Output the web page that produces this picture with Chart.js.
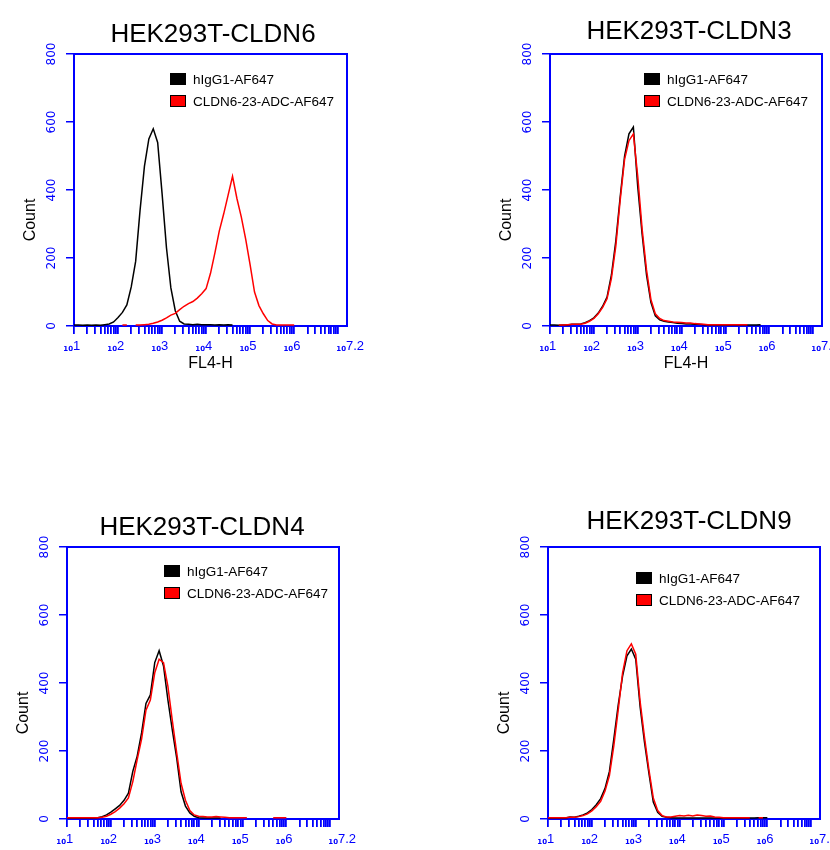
<!DOCTYPE html>
<html lang="en">
<head>
    <meta charset="UTF-8">
    <title>HEK293T CLDN binding - FL4-H histograms</title>
    <script src="https://cdn.jsdelivr.net/npm/chart.js"></script>
    <style>
        body {
            margin: 0;
            width: 830px;
            height: 850px;
            background: #ffffff;
            position: relative;
            overflow: hidden;
        }
        canvas {
            position: absolute;
        }
    </style>
</head>
<body>
    <canvas id="p1" width="400" height="380" style="left:0px;top:0px"></canvas>
    <canvas id="p2" width="430" height="380" style="left:400px;top:0px"></canvas>
    <canvas id="p3" width="400" height="420" style="left:0px;top:430px"></canvas>
    <canvas id="p4" width="430" height="420" style="left:400px;top:430px"></canvas>
    <script>
        // FL4-H bins (log10 of intensity)
        const channels = [1.0, 1.1, 1.2, 1.3, 1.4, 1.5, 1.6, 1.7, 1.8, 1.9,
                          2.0, 2.1, 2.2, 2.3, 2.4, 2.5, 2.6, 2.7, 2.8, 2.9,
                          3.0, 3.1, 3.2, 3.3, 3.4, 3.5, 3.6, 3.7, 3.8, 3.9,
                          4.0, 4.1, 4.2, 4.3, 4.4, 4.5, 4.6, 4.7, 4.8, 4.9,
                          5.0, 5.1, 5.2, 5.3, 5.4, 5.5, 5.6, 5.7, 5.8, 5.9,
                          6.0];
        const xMajor = [1, 2, 3, 4, 5, 6, 7.2];
        const xMajorText = ['1', '2', '3', '4', '5', '6', '7.2'];
        const countTicks = [0, 200, 400, 600, 800];
        const seriesNames = ['hIgG1-AF647', 'CLDN6-23-ADC-AF647'];

        // counts per bin, isotype (black) and ADC (red)
        const cldn6Iso = [3, 3, 2, 3, 2, 3, 2, 4, 6, 12,
                          25, 40, 62, 115, 190, 340, 470, 550, 580, 540,
                          390, 230, 112, 45, 14, 6, 5, 4, 5, 4,
                          4, 4, 3, 4, 3, 4, 3, null, null, null,
                          null, null, null, null, null, null, null, null, null, null,
                          null];
        const cldn6Adc = [null, null, null, null, null, null, null, null, null, null,
                          null, 3, 3, null, 3, 3, 4, 5, 8, 12,
                          17, 24, 32, 37, 48, 58, 66, 72, 82, 95,
                          110, 155, 215, 280, 330, 385, 440, 375, 320, 255,
                          180, 100, 60, 36, 16, 6, 3, 3, 3, 3,
                          3];
        const cldn3Iso = [3, 3, 2, 3, 3, 5, 5, 6, 10, 16,
                          24, 38, 58, 85, 150, 250, 380, 500, 565, 585,
                          410, 270, 150, 70, 30, 18, 14, 12, 10, 8,
                          7, 6, 6, 5, 5, 4, 3, 3, 3, 3,
                          3, 3, 3, 3, 3, 3, 3, 3, 4, null,
                          null];
        const cldn3Adc = [null, null, 3, 3, 4, 5, 5, 5, 8, 14,
                          22, 36, 55, 80, 140, 235, 370, 490, 545, 565,
                          440, 285, 165, 78, 36, 22, 16, 14, 12, 11,
                          10, 9, 9, 7, 6, 5, 4, 4, 4, 4,
                          4, 4, 4, 4, 4, 4, null, null, null, null,
                          null];
        const cldn4Iso = [3, 3, 3, 3, 3, 3, 3, 4, 7, 12,
                          20, 30, 40, 55, 76, 140, 185, 253, 340, 365,
                          460, 495, 450, 350, 262, 180, 80, 38, 18, 8,
                          4, 3, 3, 3, 3, 3, null, null, null, null,
                          null, null, null, null, null, null, null, null, null, null,
                          null];
        const cldn4Adc = [4, 4, 4, 4, 4, 4, 4, 4, 5, 8,
                          14, 22, 32, 45, 62, 110, 175, 235, 320, 350,
                          430, 470, 460, 390, 290, 195, 105, 55, 25, 12,
                          8, 7, 6, 6, 7, 6, 5, 4, 4, 4,
                          4, 4, null, null, null, null, null, 4, 4, 4,
                          4];
        const cldn9Iso = [3, 3, 3, 3, 3, 6, 5, 8, 12, 18,
                          28, 42, 60, 90, 140, 235, 335, 420, 480, 500,
                          470, 330, 225, 135, 50, 20, 8, 5, 4, 3,
                          3, 3, 3, 3, 3, 3, 3, 3, 3, 3,
                          3, 3, 3, 3, 3, 3, 3, 3, 4, 4,
                          4];
        const cldn9Adc = [4, 4, 4, 4, 4, 5, 5, 7, 10, 15,
                          24, 36, 52, 82, 128, 215, 320, 430, 495, 515,
                          485, 345, 240, 145, 62, 25, 10, 6, 6, 8,
                          10, 9, 11, 9, 12, 10, 8, 9, 6, 5,
                          4, 4, 4, 4, 4, 4, 4, null, 4, 4,
                          null];

        const BLUE = '#0000ff';

        // canvas box + plot box (page px) and text offsets for each panel
        const panels = [
            { id: 'p1', title: 'HEK293T-CLDN6', iso: cldn6Iso, adc: cldn6Adc, xTitle: true,
              cv: [0, 0, 400, 380], plot: [74, 54, 347, 326], titleD: [2.5, -19], legend: [96, 19] },
            { id: 'p2', title: 'HEK293T-CLDN3', iso: cldn3Iso, adc: cldn3Adc, xTitle: true,
              cv: [400, 0, 430, 380], plot: [550, 54, 822, 326], titleD: [3, -22], legend: [94, 19] },
            { id: 'p3', title: 'HEK293T-CLDN4', iso: cldn4Iso, adc: cldn4Adc, xTitle: false,
              cv: [0, 430, 400, 420], plot: [67, 547, 339, 819], titleD: [-1, -19], legend: [97, 18] },
            { id: 'p4', title: 'HEK293T-CLDN9', iso: cldn9Iso, adc: cldn9Adc, xTitle: false,
              cv: [400, 430, 430, 420], plot: [548, 547, 820, 819], titleD: [5, -25], legend: [88, 25] }
        ];

        const decor = {
            id: 'decor',
            beforeDatasetsDraw(chart) {
                const a = chart.chartArea, ctx = chart.ctx;
                ctx.save();
                ctx.strokeStyle = BLUE;
                ctx.lineWidth = 2;
                ctx.strokeRect(a.left, a.top, a.right - a.left, a.bottom - a.top);
                ctx.restore();
            },
            afterDraw(chart, args, o) {
                const a = chart.chartArea, ctx = chart.ctx, x = chart.scales.x;
                const cx = (a.left + a.right) / 2;
                ctx.save();
                // panel title
                ctx.fillStyle = '#000';
                ctx.font = '26px "Liberation Sans", Arial, sans-serif';
                ctx.textAlign = 'center';
                ctx.textBaseline = 'middle';
                ctx.fillText(o.title, cx + o.titleD[0], a.top + o.titleD[1]);

                // legend inside plot
                ctx.font = '13.5px "Liberation Sans", Arial, sans-serif';
                ctx.textAlign = 'left';
                chart.data.datasets.slice().reverse().forEach((ds, i) => {
                    const bx = a.left + o.legend[0], by = a.top + o.legend[1] + i * 22;
                    ctx.fillStyle = ds.borderColor;
                    ctx.fillRect(bx, by, 16, 12);
                    ctx.strokeStyle = '#000';
                    ctx.lineWidth = 1;
                    ctx.strokeRect(bx + 0.5, by + 0.5, 15, 11);
                    ctx.fillStyle = '#000';
                    ctx.fillText(ds.label, bx + 23, by + 7);
                });

                // log decade labels
                ctx.fillStyle = BLUE;
                ctx.textBaseline = 'alphabetic';
                xMajor.forEach((v, i) => {
                    const px = x.getPixelForValue(v);
                    ctx.textAlign = 'right';
                    ctx.font = 'bold 7px "DejaVu Sans", sans-serif';
                    ctx.fillText('10', px - 1, a.bottom + 25);
                    ctx.textAlign = 'left';
                    ctx.font = '13px "Liberation Sans", Arial, sans-serif';
                    ctx.fillText(xMajorText[i], px - 1, a.bottom + 24);
                });

                // axis titles
                ctx.fillStyle = '#000';
                ctx.font = '16px "Liberation Sans", Arial, sans-serif';
                ctx.textAlign = 'center';
                ctx.textBaseline = 'middle';
                if (o.xTitle) ctx.fillText('FL4-H', cx, a.bottom + 38);
                ctx.translate(a.left - 43, (a.top + a.bottom) / 2 + 30);
                ctx.rotate(-Math.PI / 2);
                ctx.fillText('Count', 0, 0);
                ctx.restore();
            }
        };

        panels.forEach(p => {
            const [cl, ct, cw, ch] = p.cv;
            const [pl, pt, pr, pb] = p.plot;
            const toXY = arr => channels.map((c, i) => ({ x: c, y: arr[i] }));
            new Chart(document.getElementById(p.id), {
                type: 'line',
                data: {
                    datasets: [{
                        label: seriesNames[1],
                        data: toXY(p.adc),
                        borderColor: '#ff0000',
                        order: 0
                    }, {
                        label: seriesNames[0],
                        data: toXY(p.iso),
                        borderColor: '#000000',
                        order: 1
                    }]
                },
                options: {
                    responsive: false,
                    animation: false,
                    devicePixelRatio: 1,
                    spanGaps: false,
                    elements: {
                        line: { borderWidth: 1.5, tension: 0, fill: false },
                        point: { radius: 0 }
                    },
                    layout: { padding: { left: 0, top: pt - ct, right: cl + cw - pr, bottom: 0 } },
                    plugins: {
                        legend: { display: false },
                        tooltip: { enabled: false },
                        decor: { title: p.title, titleD: p.titleD, legend: p.legend, xTitle: p.xTitle }
                    },
                    scales: {
                        x: {
                            type: 'linear',
                            min: 1,
                            max: 7.2,
                            afterBuildTicks: s => {
                                const t = [];
                                for (let d = 1; d <= 6; d++) {
                                    for (let m = 1; m <= 9; m++) t.push({ value: d + Math.log10(m) });
                                }
                                t.push({ value: 7 });
                                s.ticks = t;
                            },
                            afterFit: s => { s.height = ct + ch - pb; },
                            ticks: { display: false, autoSkip: false },
                            grid: { drawOnChartArea: false, tickLength: 8, color: BLUE, lineWidth: 1.8 },
                            border: { color: BLUE, width: 2 }
                        },
                        y: {
                            min: 0,
                            max: 800,
                            afterBuildTicks: s => { s.ticks = countTicks.map(v => ({ value: v })); },
                            afterFit: s => { s.width = pl - cl; },
                            ticks: {
                                color: BLUE,
                                font: { family: '"DejaVu Sans", sans-serif', size: 12 },
                                minRotation: 90,
                                maxRotation: 90,
                                crossAlign: 'center',
                                padding: 3
                            },
                            grid: { drawOnChartArea: false, tickLength: 8, color: BLUE, lineWidth: 1.5 },
                            border: { color: BLUE, width: 2 }
                        }
                    }
                },
                plugins: [decor]
            });
        });
    </script>
</body>
</html>
